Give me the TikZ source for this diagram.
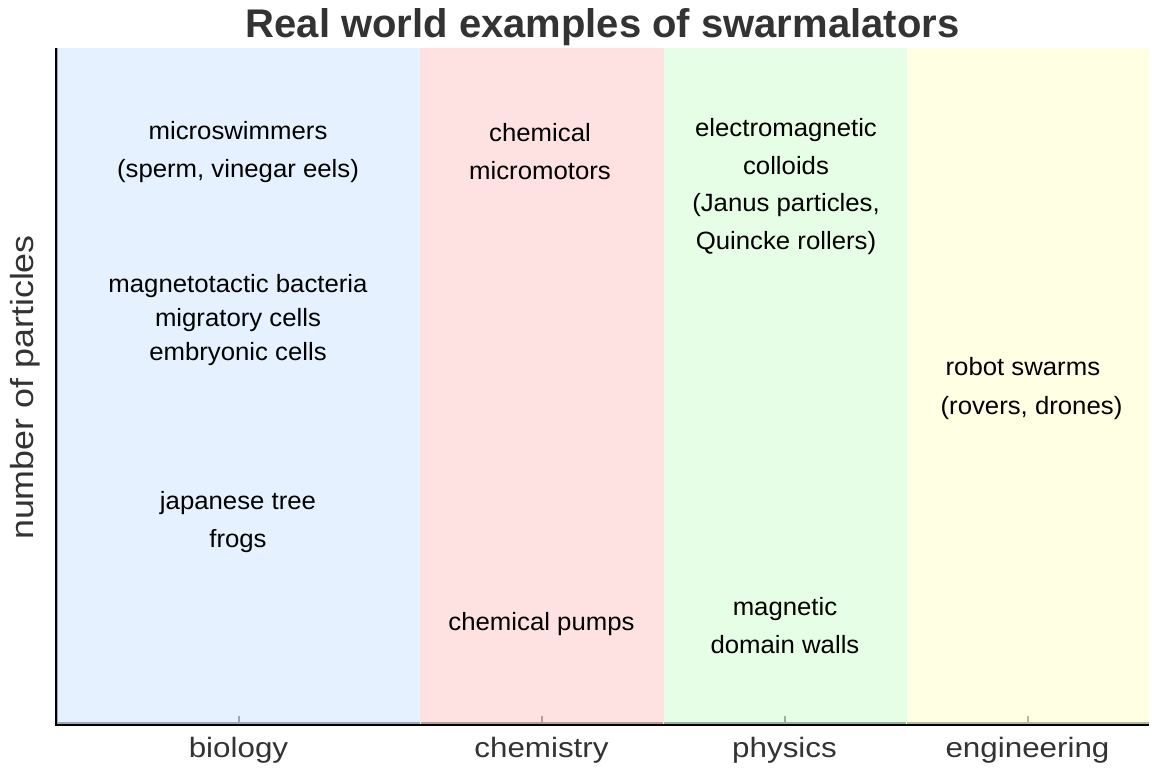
\documentclass[tikz,border=0pt]{standalone}
\usepackage{fontspec}
\setmainfont{Liberation Sans}
\newfontfamily\bodyf[FakeStretch=1.03]{Liberation Sans}
\newfontfamily\axisf[FakeStretch=1.12]{Liberation Sans}
\definecolor{bioC}{HTML}{E5F1FE}
\definecolor{chemC}{HTML}{FEE1E1}
\definecolor{physC}{HTML}{E6FDE6}
\definecolor{engC}{HTML}{FFFFE3}
\definecolor{bioE}{HTML}{9AA8B8}
\definecolor{chemE}{HTML}{B89C9C}
\definecolor{physE}{HTML}{9CB09C}
\definecolor{engE}{HTML}{B8B89C}
\definecolor{axtext}{HTML}{333333}
\tikzset{
  lbl/.style={font={\bodyf\fontsize{25}{38}\selectfont}, align=center, inner sep=0pt, text=black},
  catlbl/.style={font={\axisf\fontsize{28}{32}\selectfont}, inner sep=0pt, anchor=base, text=axtext},
  tickmark/.style={line width=2pt},
  edgeline/.style={line width=1.6pt}
}
\begin{document}
\begin{tikzpicture}[x=1pt,y=-1pt]
\useasboundingbox (0,0) rectangle (1152,772);
% columns
\fill[bioC]  (57,48) rectangle (420,724);
\fill[chemC] (420,48) rectangle (663.5,724);
\fill[physC] (663.5,48) rectangle (906.5,724);
\fill[engC]  (906.5,48) rectangle (1149,724);
% column edges
\draw[edgeline,bioE]  (57.3,48) -- (57.3,722.8) -- (419.5,722.8);
\draw[edgeline,chemE] (420.5,722.8) -- (663,722.8);
\draw[edgeline,physE] (664,722.8) -- (906,722.8);
\draw[edgeline,engE]  (907,722.8) -- (1149,722.8);
% ticks
\draw[tickmark,bioE]  (238.5,716) -- (238.5,723);
\draw[tickmark,chemE] (541.5,716) -- (541.5,723);
\draw[tickmark,physE] (784.5,716) -- (784.5,723);
\draw[tickmark,engE]  (1027.5,716) -- (1027.5,723);
% axes
\draw[line width=2pt,black] (55.5,48) -- (55.5,724.5) -- (1149,724.5);
% title
\node[font={\bfseries\fontsize{40}{44}\selectfont}, text=axtext, anchor=base, inner sep=0pt] (title) at (602.5,37) {Real world examples of swarmalators};
% axis labels
\node[catlbl] (bio) at (238.5,757.5) {biology};
\node[catlbl] (chem) at (541.5,757.5) {chemistry};
\node[catlbl] (phys) at (784.5,757.5) {physics};
\node[catlbl] (eng) at (1027.5,757.5) {engineering};
\node[font={\axisf\fontsize{32}{36}\selectfont}, text=axtext, rotate=90, anchor=base, inner sep=0pt] (ylab) at (33,387.5) {number of particles};
% labels
\node[lbl] (micro) at (238,152) {microswimmers\\(sperm, vinegar eels)};
\node[lbl, font={\bodyf\fontsize{25}{34}\selectfont}] (magbact) at (238,320) {magnetotactic bacteria\\migratory cells\\embryonic cells};
\node[lbl] (frogs) at (238,522) {japanese tree\\frogs};
\node[lbl] (micromot) at (540,152) {chemical\\micromotors};
\node[lbl] (pumps) at (541.5,624) {chemical pumps};
\node[lbl, font={\bodyf\fontsize{25}{37.7}\selectfont}] (colloids) at (786,186.5) {electromagnetic\\colloids\\(Janus particles,\\Quincke rollers)};
\node[lbl] (walls) at (785,625.5) {magnetic\\domain walls};
\node[lbl, align=left, font={\bodyf\fontsize{25}{39}\selectfont}] (robots) at (1031.5,388.5) {\hspace*{5pt}robot swarms\\(rovers, drones)};
\end{tikzpicture}
\end{document}
